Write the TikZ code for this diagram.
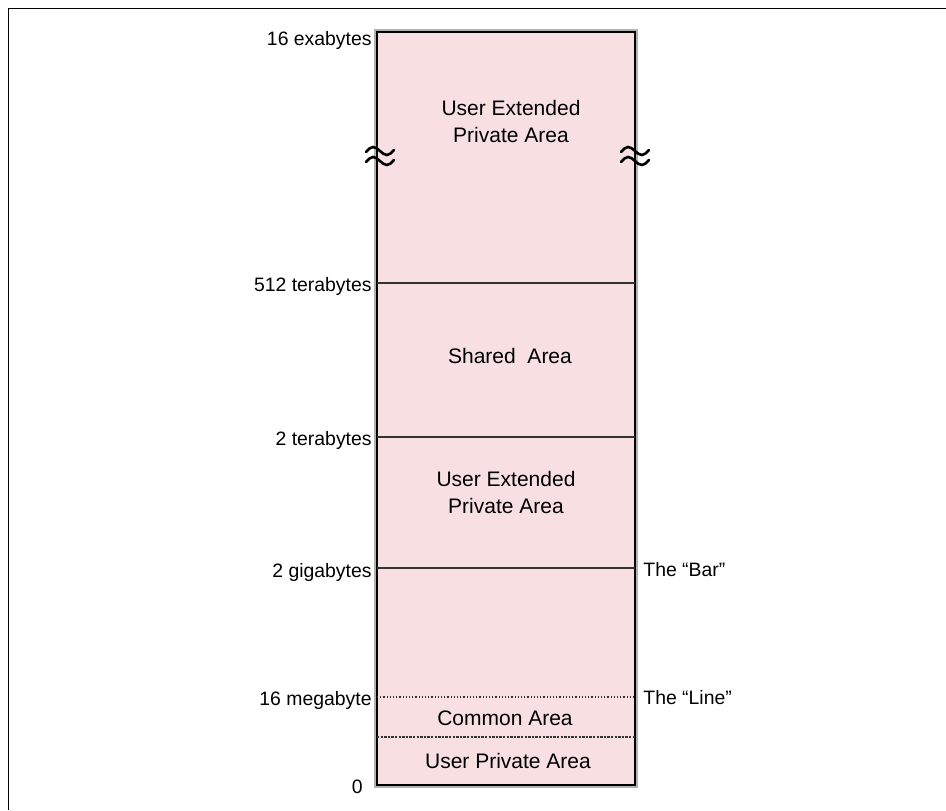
\documentclass[tikz,border=0pt]{standalone}
\usepackage{fontspec}
\setmainfont{Liberation Sans}

\definecolor{areapink}{RGB}{247,223,226}
\definecolor{rulegrey}{RGB}{51,51,51}

\tikzset{
  bound/.style={rulegrey, line width=0.7pt},
  dotbound/.style={rulegrey, line width=0.6pt, densely dotted},
  addr/.style={anchor=base east, inner sep=0pt, font=\fontsize{9.7}{11.6}\selectfont},
  marker/.style={anchor=base west, inner sep=0pt, font=\fontsize{9.7}{11.6}\selectfont},
  areatext/.style={align=center, inner sep=0pt, font=\fontsize{10.5}{13.5}\selectfont},
  breakmark/.style={line width=1.3pt, line cap=round},
}

\begin{document}
\begin{tikzpicture}[x=0.5pt, y=-0.5pt]
\useasboundingbox (0,0) rectangle (946,810);

% Define coordinates for reference points
\coordinate (boxTL) at (377,32);    % top left of the address space
\coordinate (boxBR) at (635,785);   % bottom right (address 0)

% Outer frame
\draw[line width=0.5pt] (8,810) -- (8,8) -- (946,8);

% Draw the address space column
\draw[gray!60, line width=1.6pt] (376,31) rectangle (636,786);
\draw[fill=areapink, line width=0.8pt] (boxTL) rectangle (boxBR);

% Boundaries
\draw[bound] (377,283) -- (635,283);
\draw[bound] (377,437) -- (635,437);
\draw[bound] (377,568) -- (635,568);
\draw[dotbound] (377,697) -- (635,697);
\draw[rulegrey, line width=0.6pt, dash pattern=on 1.2pt off 0.6pt] (377,737) -- (635,737);

% Break marks on both sides
\foreach \bx in {380,635}
  \foreach \dy in {151,161}
    \draw[breakmark] (\bx-14,\dy+1) sin (\bx-7,\dy-4) cos (\bx,\dy) sin (\bx+7,\dy+4) cos (\bx+14,\dy-1);

% Areas
\node[areatext] (uepTop) at (511,121) {User Extended\\Private Area};
\node[areatext, anchor=base] (shared) at (510,363) {Shared\ \ Area};
\node[areatext] (uepLow) at (506,492) {User Extended\\Private Area};
\node[areatext, anchor=base] (common) at (505,725) {Common Area};
\node[areatext, anchor=base] (userPriv) at (508,768) {User Private Area};

% Labels and addresses
\node[addr] (exa) at (372,45) {16 exabytes};
\node[addr] (tera512) at (372,291) {512 terabytes};
\node[addr] (tera2) at (372,445) {2 terabytes};
\node[addr] (giga2) at (372,577) {2 gigabytes};
\node[addr] (mega16) at (372,705) {16 megabyte};
\node[addr] (zero) at (363,793) {0};
\node[marker] (bar) at (643,576) {The “Bar”};
\node[marker] (line) at (643,704) {The “Line”};

\end{tikzpicture}
\end{document}
